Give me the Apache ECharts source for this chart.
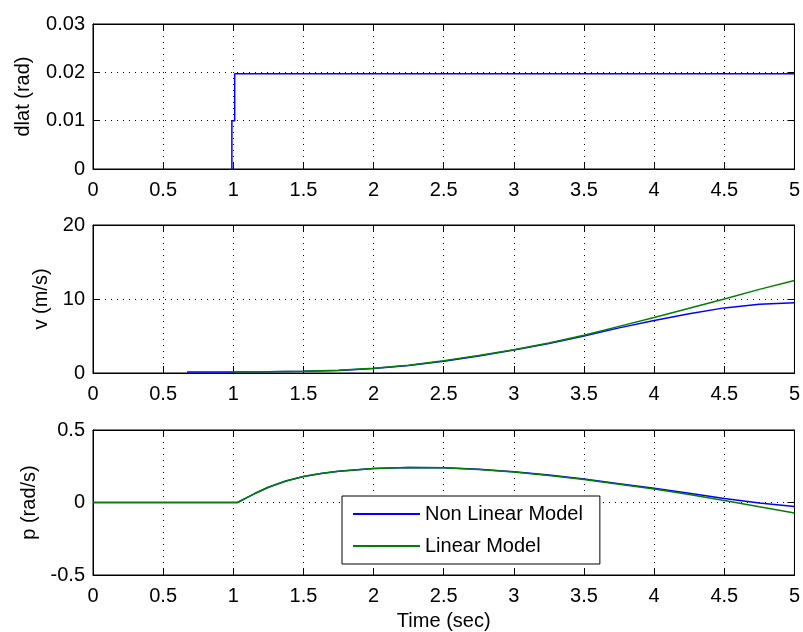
<!DOCTYPE html>
<html><head><meta charset="utf-8">
<script src="https://cdn.jsdelivr.net/npm/echarts@6/dist/echarts.min.js"></script>
<style>html,body{margin:0;padding:0;background:#fff}#c{width:803px;height:632px}</style>
</head><body><div id="c"></div>
<script>
// ---- data ----
const xTicks = [0, 0.5, 1, 1.5, 2, 2.5, 3, 3.5, 4, 4.5, 5];
const dlatTime = [0.99, 0.99, 1.01, 1.01, 5];
const dlatValue = [0, 0.01, 0.01, 0.0197, 0.0197];

const vTimeNonLinear = [0.67, 1, 1.25, 1.5, 1.75, 2, 2.25, 2.5, 2.75, 3, 3.25, 3.5, 3.75, 4, 4.25, 4.5, 4.75, 5];
const vNonLinear    = [0.15, 0.15, 0.17, 0.22, 0.35, 0.6, 1.0, 1.6, 2.3, 3.1, 4.0, 5.0, 6.1, 7.1, 8.0, 8.8, 9.3, 9.5];
const vTimeLinear   = [1, 1.25, 1.5, 1.75, 2, 2.25, 2.5, 2.75, 3, 3.25, 3.5, 3.75, 4, 4.25, 4.5, 4.75, 5];
const vLinear       = [0.15, 0.17, 0.25, 0.38, 0.65, 1.05, 1.65, 2.35, 3.15, 4.05, 5.1, 6.3, 7.5, 8.75, 10.0, 11.3, 12.5];

const pTime      = [0, 1.03, 1.1, 1.15, 1.25, 1.375, 1.5, 1.625, 1.75, 2, 2.25, 2.5, 2.75, 3, 3.25, 3.5, 3.75, 4, 4.25, 4.5, 4.75, 5];
const pNonLinear = [0, 0, 0.035, 0.06, 0.105, 0.148, 0.18, 0.2, 0.216, 0.235, 0.242, 0.24, 0.23, 0.212, 0.19, 0.162, 0.13, 0.098, 0.063, 0.028, -0.003, -0.028];
const pLinear    = [0, 0, 0.035, 0.06, 0.105, 0.148, 0.18, 0.2, 0.216, 0.235, 0.242, 0.24, 0.228, 0.21, 0.187, 0.158, 0.126, 0.093, 0.055, 0.014, -0.03, -0.072];

const yRanges = [
  {min: 0, max: 0.03, interval: 0.01, name: 'dlat (rad)', gap: 60},
  {min: 0, max: 20, interval: 10, name: 'v (m/s)', gap: 40},
  {min: -0.5, max: 0.5, interval: 0.5, name: 'p (rad/s)', gap: 53}
];
const seriesNames = ['Non Linear Model', 'Linear Model'];

// ---- chart ----
const FONT = "'Liberation Sans', Arial, sans-serif";
const grids = [
  {left: 93, top: 24, width: 705, height: 145},
  {left: 93, top: 225, width: 705, height: 148},
  {left: 93, top: 430, width: 705, height: 147}
].map(g => Object.assign({show: true, borderColor: '#000', borderWidth: 1, backgroundColor: '#fff'}, g));

const gridLine = {show: true, lineStyle: {color: '#000', width: 1, type: [1, 5]}};
const xAxes = [], yAxes = [];
for (let g = 0; g < 3; g++) {
  ['bottom', 'top'].forEach(pos => {
    const main = pos === 'bottom';
    const ax = {
      type: 'value', gridIndex: g, position: pos,
      min: xTicks[0], max: xTicks[xTicks.length - 1], interval: xTicks[1] - xTicks[0],
      axisLine: {show: true, onZero: false, lineStyle: {color: '#000', width: 1}},
      axisTick: {show: true, inside: true, length: 7, lineStyle: {color: '#000'}},
      axisLabel: {show: main, color: '#000', fontSize: 20, fontFamily: FONT, margin: 11},
      splitLine: main ? gridLine : {show: false}
    };
    if (main && g === 2) {
      ax.name = 'Time (sec)'; ax.nameLocation = 'middle'; ax.nameGap = 36;
      ax.nameTextStyle = {color: '#000', fontSize: 20, fontFamily: FONT};
    }
    xAxes.push(ax);
  });
  ['left', 'right'].forEach(pos => {
    const main = pos === 'left';
    const r = yRanges[g];
    const ax = {
      type: 'value', gridIndex: g, position: pos,
      min: r.min, max: r.max, interval: r.interval,
      axisLine: {show: true, onZero: false, lineStyle: {color: '#000', width: 1}},
      axisTick: {show: true, inside: true, length: 7, lineStyle: {color: '#000'}},
      axisLabel: {show: main, color: '#000', fontSize: 20, fontFamily: FONT, margin: 8},
      splitLine: main ? gridLine : {show: false}
    };
    if (main) {
      ax.name = r.name; ax.nameLocation = 'middle'; ax.nameGap = r.gap;
      ax.nameTextStyle = {color: '#000', fontSize: 20, fontFamily: FONT};
    }
    yAxes.push(ax);
  });
}

const zip = (t, v) => t.map((x, i) => [x, v[i]]);
const BLUE = '#0000ff', GREEN = '#008000';
const line = (name, xi, data, color) => ({
  name, type: 'line', xAxisIndex: xi, yAxisIndex: xi, data,
  showSymbol: false, symbol: 'none', smooth: false, color,
  lineStyle: {color, width: 1.5}, clip: true
});

const option = {
  animation: false,
  backgroundColor: '#fff',
  textStyle: {fontFamily: FONT},
  grid: grids,
  xAxis: xAxes,
  yAxis: yAxes,
  legend: {
    data: seriesNames, orient: 'vertical', left: 342, top: 496,
    padding: [7, 17, 7, 11], itemWidth: 67, itemHeight: 2, icon: 'rect', itemGap: 10,
    borderColor: '#000', borderWidth: 1, borderRadius: 0, backgroundColor: '#fff',
    textStyle: {color: '#000', fontSize: 20, lineHeight: 22, fontFamily: FONT},
    selectedMode: false
  },
  series: [
    line('dlat', 0, zip(dlatTime, dlatValue), BLUE),
    line(seriesNames[0], 2, zip(vTimeNonLinear, vNonLinear), BLUE),
    line(seriesNames[1], 2, zip(vTimeLinear, vLinear), GREEN),
    line(seriesNames[0], 4, zip(pTime, pNonLinear), BLUE),
    line(seriesNames[1], 4, zip(pTime, pLinear), GREEN)
  ]
};
const chart = echarts.init(document.getElementById('c'), null, {renderer: 'canvas'});
chart.setOption(option);
</script></body></html>
